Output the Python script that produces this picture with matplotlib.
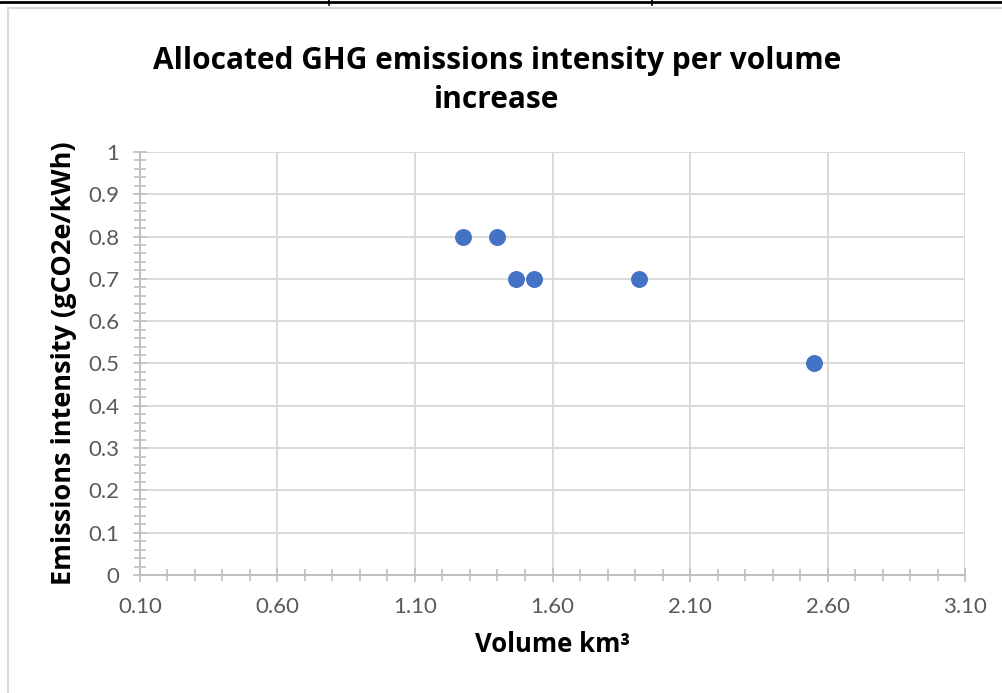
import numpy as np
import matplotlib
matplotlib.use("Agg")
from matplotlib import pyplot as plt
from matplotlib.lines import Line2D
from matplotlib.patches import Rectangle
from matplotlib.ticker import MultipleLocator, FuncFormatter

# data
volume = [1.275, 1.40, 1.467, 1.533, 1.915, 2.55]
intensity = [0.8, 0.8, 0.7, 0.7, 0.7, 0.5]

title = "Allocated GHG emissions intensity per volume\nincrease"
x_label = "Volume km\u00b3"
y_label = "Emissions intensity (gCO2e/kWh)"


def main():
    plt.rcParams["font.family"] = ["Lato", "DejaVu Sans"]
    bold_font = ["Open Sans", "DejaVu Sans"]

    fig = plt.figure(figsize=(10.02, 6.93), dpi=100)
    ax = fig.add_axes([0.1397, 0.1703, 0.8234, 0.6104])

    # points
    ax.scatter(volume, intensity, s=125, color="#4472C4", zorder=3)

    # axes limits and ticks
    ax.set_xlim(0.10, 3.10)
    ax.set_ylim(0, 1)
    ax.xaxis.set_major_locator(MultipleLocator(0.5, offset=0.1))
    ax.xaxis.set_minor_locator(MultipleLocator(0.1))
    ax.yaxis.set_major_locator(MultipleLocator(0.1))
    ax.yaxis.set_minor_locator(MultipleLocator(0.02))
    ax.xaxis.set_major_formatter(FuncFormatter(lambda v, p: "{:.2f}".format(v)))
    ax.yaxis.set_major_formatter(FuncFormatter(lambda v, p: "{:g}".format(round(v, 2))))

    # grid and spines
    ax.grid(True, which="major", color="#d9d9d9", linewidth=1.4, zorder=0)
    ax.set_axisbelow(True)
    for side in ["top", "right"]:
        ax.spines[side].set_visible(False)
    for side in ["left", "bottom"]:
        ax.spines[side].set_color("#bfbfbf")
        ax.spines[side].set_linewidth(1.4)
        ax.spines[side].set_zorder(1)

    ax.tick_params(which="both", direction="inout", color="#bfbfbf", width=1.2,
                   labelcolor="#595959", labelsize=16)
    ax.tick_params(axis="y", which="major", length=10, pad=10)
    ax.tick_params(axis="y", which="minor", length=8)
    ax.tick_params(axis="x", which="major", length=10, pad=11)
    ax.tick_params(axis="x", which="minor", length=8)

    # labels
    fig.suptitle(title, fontsize=21.5, fontweight="bold", x=0.496, y=0.934,
                 linespacing=1.42, family=bold_font)
    ax.set_xlabel(x_label, fontsize=18.5, fontweight="bold", labelpad=10,
                  family=bold_font)
    ax.set_ylabel(y_label, fontsize=19.5, fontweight="bold", labelpad=8,
                  family=bold_font)

    # chart area border and table lines
    fig.add_artist(Rectangle((0.008, -0.1), 1.2, 1.088, transform=fig.transFigure,
                             fill=False, edgecolor="#d9d9d9", linewidth=1.5))
    fig.add_artist(Line2D([0, 1], [0.997, 0.997], transform=fig.transFigure,
                          color="black", linewidth=2))
    for xv in [0.328, 0.651]:
        fig.add_artist(Line2D([xv, xv], [0.993, 1.0], transform=fig.transFigure,
                              color="black", linewidth=1.2))

    fig.savefig("out.png", dpi=100)


if __name__ == "__main__":
    main()
